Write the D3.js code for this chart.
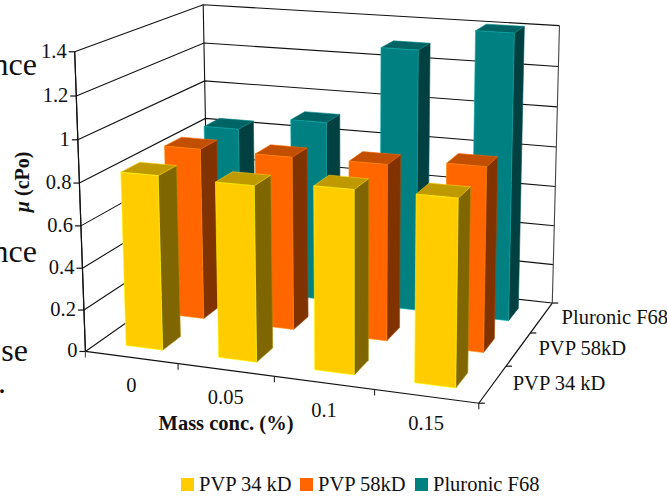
<!DOCTYPE html>
<html>
<head>
<meta charset="utf-8">
<script src="https://cdnjs.cloudflare.com/ajax/libs/d3/7.8.5/d3.min.js"></script>
<style>
html, body { margin: 0; background: #fff; }
text { font-family: "Liberation Serif", serif; fill: #111; }
</style>
</head>
<body>
<div id="graph"></div>
<script>
var concs = ['0', '0.05', '0.1', '0.15']
var seriesNames = ['PVP 34 kD', 'PVP 58kD', 'Pluronic F68']
var pvp34 = [0.83, 0.825, 0.85, 0.855]
var pvp58 = [0.845, 0.845, 0.85, 0.88]
var f68 = [0.84, 0.91, 1.3, 1.41]
var yTicks = [0, 0.2, 0.4, 0.6, 0.8, 1, 1.2, 1.4]

var seriesValues = [pvp34, pvp58, f68]
var colors = [
  {front: '#ffcc00', top: '#bf9900', side: '#806600'},
  {front: '#ff6600', top: '#c24e00', side: '#803300'},
  {front: '#008080', top: '#006464', side: '#004040'}
]

// picture positions of known chart points, used to fit the camera: [u, v, z, x, y]
var anchors = [
  [0, 0, 0, 86, 350], [0, 0, 0, 86, 350], [0, 0, 0, 86, 350],
  [1, 0, 0, 477, 403], [1, 1, 0, 550, 302], [0, 1, 0, 207, 269],
  [0, 0, 1, 74, 51], [0, 0, 1, 74, 51], [1, 0, 1, 484, 84], [1, 1, 1, 560, 25], [0, 1, 1, 204, 5],
  [.25, 0, 0, 178, 365], [.5, 0, 0, 273, 378], [.75, 0, 0, 373, 392],
  [1, 1/3, 0, 510, 365], [1, 2/3, 0, 533, 331],
  [0, 0, 4/7, 80, 182], [0, 1, 4/7, 206, 118], [1, 1, 4/7, 555, 146]
]

// least squares camera matrix (11 unknowns, last entry fixed to 1)
function fitCamera(pts) {
  var A = d3.range(11).map(() => d3.range(12).map(() => 0))
  function addRow(r, t) {
    r.forEach((ri, i) => {
      r.forEach((rj, j) => A[i][j] += ri * rj)
      A[i][11] += ri * t
    })
  }
  pts.forEach(([u, v, z, x, y]) => {
    addRow([u, v, z, 1, 0, 0, 0, 0, -x * u, -x * v, -x * z], x)
    addRow([0, 0, 0, 0, u, v, z, 1, -y * u, -y * v, -y * z], y)
  })
  for (var i = 0; i < 11; i++) {
    var best = i
    for (var k = i + 1; k < 11; k++) if (Math.abs(A[k][i]) > Math.abs(A[best][i])) best = k
    var tmp = A[i]; A[i] = A[best]; A[best] = tmp
    for (var k = 0; k < 11; k++) {
      if (k == i) continue
      var f = A[k][i] / A[i][i]
      for (var j = i; j < 12; j++) A[k][j] -= f * A[i][j]
    }
  }
  return A.map((row, i) => row[11] / row[i])
}
var P = fitCamera(anchors)

var zScale = d3.scaleLinear().domain([0, 1.4]).range([0, 1])
var uScale = d3.scaleBand().domain(concs).range([0, 1]).paddingInner(.6).paddingOuter(.3)
var vScale = d3.scaleBand().domain(seriesNames).range([0, 1]).paddingInner(.58).paddingOuter(.29)

function project(u, v, val) {
  var z = zScale(val)
  var w = P[8] * u + P[9] * v + P[10] * z + 1
  return [(P[0] * u + P[1] * v + P[2] * z + P[3]) / w, (P[4] * u + P[5] * v + P[6] * z + P[7]) / w]
}

var line = d3.line()
var poly = d => line(d) + 'Z'

var svg = d3.select('#graph').append('svg')
  .attr('width', 667).attr('height', 497)
  .style('display', 'block')

// walls and gridlines
var grid = svg.append('g').attr('fill', 'none').attr('stroke', '#111').attr('stroke-width', 1.1)
yTicks.forEach(t => {
  grid.append('path').attr('d', line([project(0, 0, t), project(0, 1, t), project(1, 1, t)]))
})
grid.append('path').attr('d', line([project(0, 0, 0), project(0, 0, 1.4)]))
grid.append('path').attr('d', line([project(0, 1, 0), project(0, 1, 1.4)]))
grid.append('path').attr('d', line([project(1, 1, 0), project(1, 1, 1.4)])).attr('stroke', '#444')

// bars, back row first
var bars = d3.range(seriesNames.length).reverse().flatMap(s =>
  concs.map((c, i) => ({s: s, c: c, val: seriesValues[s][i]})))

var barG = svg.selectAll('g.bar').data(bars).enter().append('g').attr('class', 'bar')

barG.each(function(d) {
  var g = d3.select(this)
  var u0 = uScale(d.c), u1 = u0 + uScale.bandwidth()
  var v0 = vScale(seriesNames[d.s]), v1 = v0 + vScale.bandwidth()
  var col = colors[d.s]
  var faces = [
    {fill: col.side, pts: [project(u1, v0, 0), project(u1, v1, 0), project(u1, v1, d.val), project(u1, v0, d.val)]},
    {fill: col.top, pts: [project(u0, v0, d.val), project(u1, v0, d.val), project(u1, v1, d.val), project(u0, v1, d.val)]},
    {fill: col.front, pts: [project(u0, v0, 0), project(u1, v0, 0), project(u1, v0, d.val), project(u0, v0, d.val)]}
  ]
  g.selectAll('path').data(faces).enter().append('path')
    .attr('d', f => poly(f.pts))
    .attr('fill', f => f.fill)
    .attr('stroke', f => d3.color(f.fill).brighter(.8))
    .attr('stroke-width', .6)
    .attr('stroke-linejoin', 'round')
})

// floor edges in front of the bars
var axes = svg.append('g').attr('fill', 'none').attr('stroke', '#111').attr('stroke-width', 1.2)
axes.append('path').attr('d', line([project(0, 0, 0), project(1, 0, 0), project(1, 1, 0)]))
axes.append('path').attr('d', line([project(0, 0, 0), project(0, 0, 1.4)]))

// value axis
yTicks.forEach(t => {
  var p = project(0, 0, t)
  axes.append('path').attr('d', line([p, [p[0] - 6, p[1]]]))
  svg.append('text').attr('x', p[0] - 8).attr('y', p[1] + 6)
    .attr('text-anchor', 'end').attr('font-size', 20.5).text(t)
})

// category axis
d3.range(0, 5).forEach(i => {
  var p = project(i / 4, 0, 0)
  axes.append('path').attr('d', line([p, [p[0], p[1] + 6]])).attr('stroke', i ? '#333' : '#555')
})
concs.forEach((c, i) => {
  var p = project((i + .5) / 4, 0, 0)
  svg.append('text').attr('x', p[0]).attr('y', p[1] + 34)
    .attr('text-anchor', 'middle').attr('font-size', 20.5).text(c)
})

// depth axis
d3.range(0, 4).forEach(i => {
  var p = project(1, i / 3, 0)
  axes.append('path').attr('d', line([p, [p[0] + 6, p[1]]]))
})
seriesNames.forEach((name, i) => {
  var p = project(1, (i + .5) / 3, 0)
  svg.append('text').attr('x', p[0] + 20).attr('y', p[1] + 6)
    .attr('font-size', 20.5).text(name)
})

// axis titles
svg.append('text').attr('transform', 'translate(29,182) rotate(-90)')
  .attr('text-anchor', 'middle').attr('font-size', 20).attr('font-weight', 'bold')
  .call(t => {
    t.append('tspan').attr('font-style', 'italic').text('µ')
    t.append('tspan').text(' (cPo)')
  })
svg.append('text').attr('x', 226).attr('y', 430)
  .attr('text-anchor', 'middle').attr('font-size', 20.5).attr('font-weight', 'bold')
  .text('Mass conc. (%)')

// legend
var legendX = [181, 300, 415]
seriesNames.forEach((name, i) => {
  svg.append('rect').attr('x', legendX[i]).attr('y', 478).attr('width', 13).attr('height', 13)
    .attr('fill', colors[i].front)
  svg.append('text').attr('x', legendX[i] + 18).attr('y', 491)
    .attr('font-size', 20.5).text(name)
})

// text of the page behind the chart, cut off at the left edge
var behind = [['nce', 37, 75], ['nce', 37, 262], ['se', 28, 361], ['.', 6, 393]]
behind.forEach(d => {
  svg.append('text').attr('x', d[1]).attr('y', d[2]).attr('text-anchor', 'end')
    .attr('font-size', 32).text(d[0])
})
</script>
</body>
</html>
